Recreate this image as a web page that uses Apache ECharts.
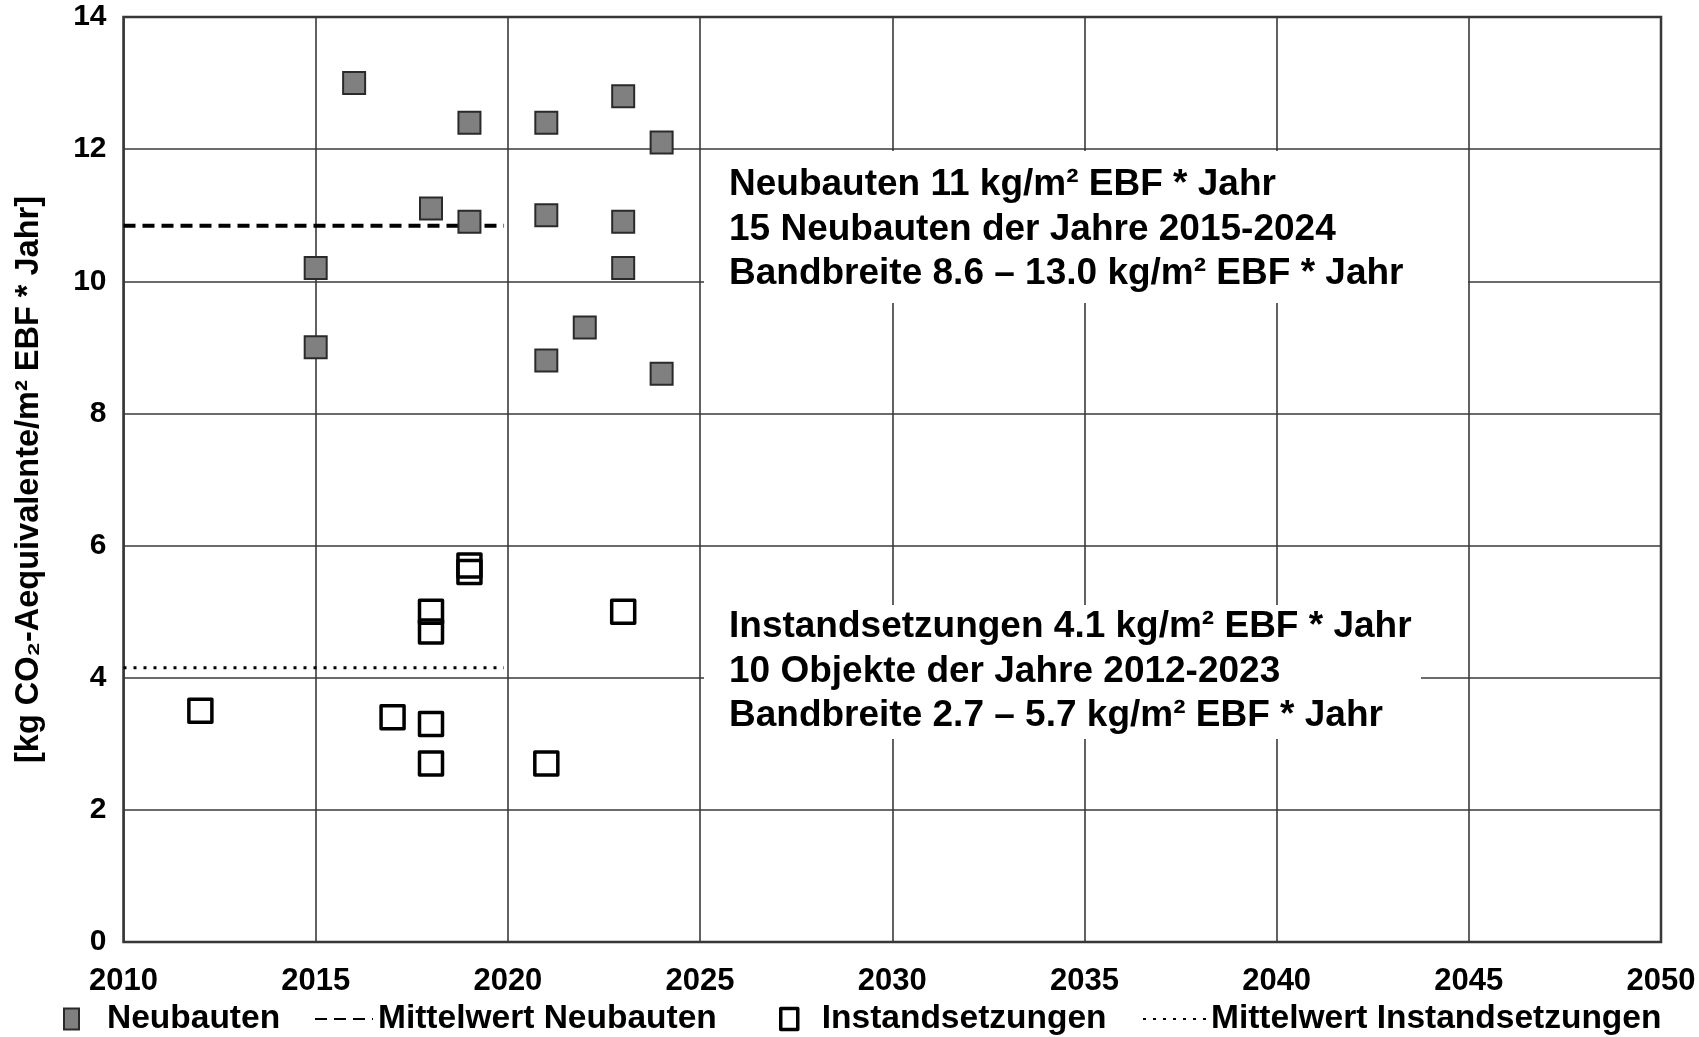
<!DOCTYPE html>
<html>
<head>
<meta charset="utf-8">
<script src="https://cdn.jsdelivr.net/npm/echarts@6/dist/echarts.min.js"></script>
<style>
html,body{margin:0;padding:0;background:#fff;}
#chart{width:1699px;height:1037px;}
</style>
</head>
<body>
<div id="chart"></div>
<script>
// ---- data ----
const neuYears = [2015, 2015, 2016, 2018, 2019, 2019, 2021, 2021, 2021, 2022, 2023, 2023, 2023, 2024, 2024];
const neuValues = [10.2, 9.0, 13.0, 11.1, 12.4, 10.9, 12.4, 11.0, 8.8, 9.3, 12.8, 10.9, 10.2, 12.1, 8.6];
const instYears = [2012, 2017, 2018, 2018, 2018, 2018, 2019, 2019, 2021, 2023];
const instValues = [3.5, 3.4, 5.0, 4.7, 3.3, 2.7, 5.7, 5.6, 2.7, 5.0];
const meanNeuYears = [2010, 2019.9];
const meanNeuValues = [10.84, 10.84];
const meanInstYears = [2010, 2019.9];
const meanInstValues = [4.15, 4.15];
const seriesNames = ['Neubauten', 'Mittelwert Neubauten', 'Instandsetzungen', 'Mittelwert Instandsetzungen'];
const yAxisName = '[kg CO\u2082-Aequivalente/m\u00B2 EBF * Jahr]';
const noteNeu = 'Neubauten 11 kg/m\u00B2 EBF * Jahr\n15 Neubauten der Jahre 2015-2024\nBandbreite 8.6 \u2013 13.0 kg/m\u00B2 EBF * Jahr';
const noteInst = 'Instandsetzungen 4.1 kg/m\u00B2 EBF * Jahr\n10 Objekte der Jahre 2012-2023\nBandbreite 2.7 \u2013 5.7 kg/m\u00B2 EBF * Jahr';

const zip = (xs, ys) => xs.map((x, i) => [x, ys[i]]);
const FONT = '"Liberation Sans", Arial, sans-serif';

const chart = echarts.init(document.getElementById('chart'), null, {renderer: 'canvas'});

const legendText = {fontFamily: FONT, fontWeight: 'bold', fontSize: 33.5, color: '#000', lineHeight: 36};
const legendBase = {orient: 'horizontal', top: 1001, padding: 0, selectedMode: false};

const option = {
  backgroundColor: '#fff',
  animation: false,
  grid: {left: 123.5, right: 38, top: 17, bottom: 95, show: true, borderColor: '#333', borderWidth: 2.5, containLabel: false},
  xAxis: {
    type: 'value', min: 2010, max: 2050, interval: 5,
    axisLine: {show: false}, axisTick: {show: false},
    splitLine: {show: true, lineStyle: {color: '#3a3a3a', width: 1.6}},
    axisLabel: {margin: 24, fontFamily: FONT, fontWeight: 'bold', fontSize: 31, color: '#000', formatter: v => String(v)}
  },
  yAxis: {
    type: 'value', min: 0, max: 14, interval: 2,
    axisLine: {show: false}, axisTick: {show: false},
    splitLine: {show: true, lineStyle: {color: '#3a3a3a', width: 1.6}},
    axisLabel: {margin: 17, fontFamily: FONT, fontWeight: 'bold', fontSize: 30, color: '#000'},
    name: yAxisName, nameLocation: 'middle', nameRotate: 90, nameGap: 78,
    nameTextStyle: {fontFamily: FONT, fontWeight: 'bold', fontSize: 32.5, color: '#000'}
  },
  legend: [
    Object.assign({}, legendBase, {left: 63, data: [{name: seriesNames[0], icon: 'rect'}], itemWidth: 15, itemHeight: 21,
      textStyle: Object.assign({}, legendText, {padding: [0, 0, 0, 23]})}),
    Object.assign({}, legendBase, {left: 314, data: [seriesNames[1]], itemWidth: 58, itemHeight: 14,
      itemStyle: {opacity: 0}, textStyle: legendText}),
    Object.assign({}, legendBase, {left: 779, data: [{name: seriesNames[2], icon: 'rect'}], itemWidth: 17, itemHeight: 21,
      itemStyle: {color: '#fff', borderColor: '#000', borderWidth: 3.5},
      textStyle: Object.assign({}, legendText, {padding: [0, 0, 0, 19]})}),
    Object.assign({}, legendBase, {left: 1142, data: [seriesNames[3]], itemWidth: 63, itemHeight: 14,
      itemStyle: {opacity: 0}, textStyle: legendText})
  ],
  graphic: [
    {type: 'rect', z: 1, shape: {x: 704, y: 151, width: 764, height: 152}, style: {fill: '#fff'}},
    {type: 'rect', z: 1, shape: {x: 704, y: 605, width: 717, height: 134}, style: {fill: '#fff'}},
    {type: 'text', z: 3, left: 729, top: 163, style: {text: noteNeu, font: 'bold 37px ' + FONT, fill: '#000', lineHeight: 44.5}},
    {type: 'text', z: 3, left: 729, top: 605, style: {text: noteInst, font: 'bold 37px ' + FONT, fill: '#000', lineHeight: 44.5}}
  ],
  series: [
    {
      name: seriesNames[0], type: 'scatter', z: 4, symbol: 'rect', symbolSize: 22,
      itemStyle: {color: '#808080', borderColor: '#2a2a2a', borderWidth: 2, opacity: 1},
      data: zip(neuYears, neuValues)
    },
    {
      name: seriesNames[1], type: 'line', z: 3, symbol: 'none', silent: true,
      itemStyle: {color: '#000'},
      lineStyle: {color: '#000', width: 4, type: [12, 7]},
      data: zip(meanNeuYears, meanNeuValues)
    },
    {
      name: seriesNames[2], type: 'scatter', z: 4, symbol: 'rect', symbolSize: 23,
      itemStyle: {color: 'rgba(255,255,255,0)', borderColor: '#000', borderWidth: 3.5, borderJoin: 'round', opacity: 1},
      data: zip(instYears, instValues)
    },
    {
      name: seriesNames[3], type: 'line', z: 3, symbol: 'none', silent: true,
      itemStyle: {color: '#000'},
      lineStyle: {color: '#000', width: 3, type: [3, 7]},
      data: zip(meanInstYears, meanInstValues)
    }
  ]
};
chart.setOption(option);
</script>
</body>
</html>
